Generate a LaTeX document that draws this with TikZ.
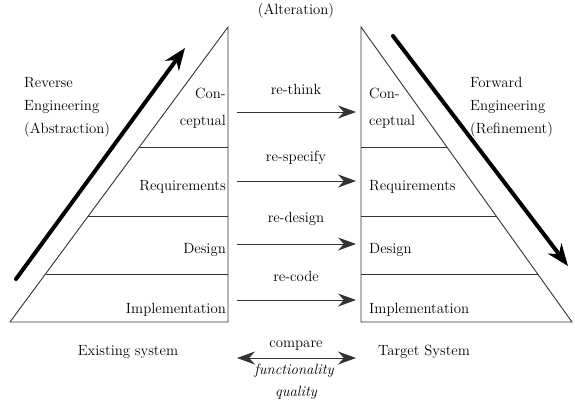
\documentclass[tikz,border=0pt]{standalone}
\usetikzlibrary{arrows.meta}
\begin{document}
\begin{tikzpicture}[x=1pt,y=-1pt,
  lbl/.style={font=\rmfamily\fontsize{14.8}{17}\selectfont, inner sep=0pt},
  ilbl/.style={font=\rmfamily\fontsize{14.8}{17}\selectfont\itshape, inner sep=0pt},
  thin/.style={draw=black!80, line width=0.9pt},
  harrow/.style={thin, -{Stealth[length=18pt,width=13pt]}},
  bigarrow/.style={line width=4pt, line cap=round, -{Stealth[length=22pt,width=17pt]}}]
\useasboundingbox (0,0) rectangle (575,410);
% left triangle
\coordinate (LA) at (228,27);
\coordinate (LB) at (228,322);
\coordinate (LC) at (10,322);
\draw[thin] (LC) -- (LA) -- (LB) -- cycle;
\draw[thin] (139,147) -- (228,147);
\draw[thin] (88,216) -- (228,216);
\draw[thin] (45.5,274) -- (228,274);
% right triangle
\coordinate (RA) at (361,27);
\coordinate (RB) at (361,322);
\coordinate (RC) at (572,322);
\draw[thin] (RC) -- (RA) -- (RB) -- cycle;
\draw[thin] (361,147) -- (447,147);
\draw[thin] (361,216) -- (496,216);
\draw[thin] (361,274) -- (538,274);
% left labels
\node[lbl, anchor=east] (lcon) at (226,93) {Con-};
\node[lbl, anchor=east] (lcep) at (226,122) {ceptual};
\node[lbl, anchor=east] (lreq) at (226,187) {Requirements};
\node[lbl, anchor=east] (ldes) at (226,250) {Design};
\node[lbl, anchor=east] (limp) at (226,310) {Implementation};
% right labels
\node[lbl, anchor=west] (rcon) at (369,93) {Con-};
\node[lbl, anchor=west] (rcep) at (369,122) {ceptual};
\node[lbl, anchor=west] (rreq) at (369,187) {Requirements};
\node[lbl, anchor=west] (rdes) at (369,250) {Design};
\node[lbl, anchor=west] (rimp) at (369,310) {Implementation};
% middle arrows
\coordinate (a1s) at (237,112); \coordinate (a1e) at (356,112);
\coordinate (a2s) at (237,181); \coordinate (a2e) at (356,181);
\coordinate (a3s) at (237,244); \coordinate (a3e) at (356,244);
\coordinate (a4s) at (237,300); \coordinate (a4e) at (356,300);
\draw[harrow] (a1s) -- (a1e);
\draw[harrow] (a2s) -- (a2e);
\draw[harrow] (a3s) -- (a3e);
\draw[harrow] (a4s) -- (a4e);
\node[lbl] (t1) at (296,89) {re-think};
\node[lbl] (t2) at (296,158) {re-specify};
\node[lbl] (t3) at (296,219) {re-design};
\node[lbl] (t4) at (296,276) {re-code};
\node[lbl] (alt) at (296,11) {(Alteration)};
% compare
\coordinate (cs) at (237,358); \coordinate (ce) at (356,358);
\draw[thin, {Stealth[length=18pt,width=13pt]}-{Stealth[length=18pt,width=13pt]}] (cs) -- (ce);
\node[lbl] (cmp) at (296,346) {compare};
\node[ilbl] (fun) at (294,371) {functionality};
\node[ilbl] (qua) at (296,393) {quality};
\node[lbl] (ex) at (128,352) {Existing system};
\node[lbl] (tg) at (424,352) {Target System};
% side labels
\node[lbl, anchor=west, align=left, font=\rmfamily\fontsize{14.8}{23}\selectfont] (rev) at (24,107) {Reverse\\Engineering\\(Abstraction)};
\node[lbl, anchor=west, align=left, font=\rmfamily\fontsize{14.8}{23}\selectfont] (fwd) at (470,107) {Forward\\Engineering\\(Refinement)};
% big arrows
\coordinate (b1s) at (16,279); \coordinate (b1e) at (185,48);
\coordinate (b2s) at (393,36); \coordinate (b2e) at (568,266);
\draw[bigarrow] (b1s) -- (b1e);
\draw[bigarrow] (b2s) -- (b2e);
\end{tikzpicture}
\end{document}
